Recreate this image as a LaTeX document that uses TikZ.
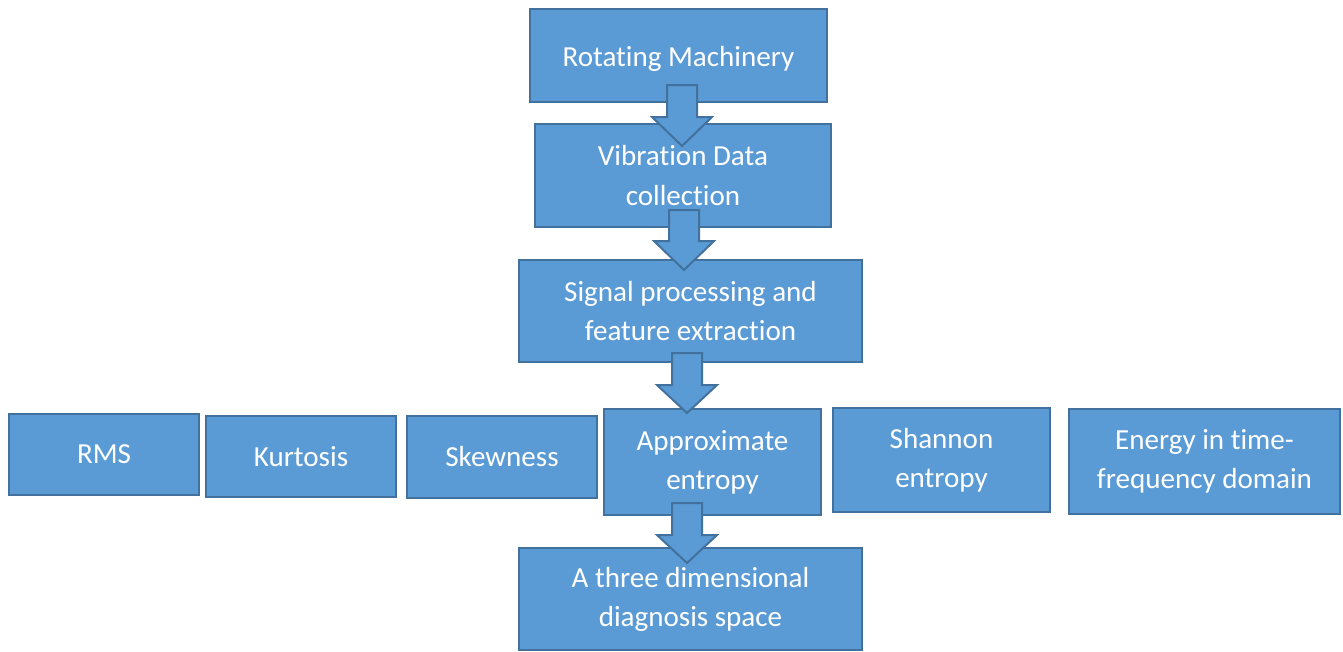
\documentclass[tikz,border=0pt]{standalone}
\usepackage{fontspec}
\setmainfont{Carlito}[RawFeature=-liga]
\definecolor{boxfill}{HTML}{5B9BD5}
\definecolor{boxline}{HTML}{41719C}
\newcommand\bx[6]{\node[box, minimum width={(#4-#2)*0.75pt}, minimum height={(#5-#3)*0.75pt}] (#1) at ({(#2+#4)/2},{(#3+#5)/2}) {#6};}
\newcommand\barr[4]{\draw[barrow] ({#1-15},#2) -- ({#1+15},#2) -- ({#1+15},#3) -- ({#1+30},#3) -- (#1,#4) -- ({#1-30},#3) -- ({#1-15},#3) -- cycle;}
\begin{document}
\begin{tikzpicture}[x=0.75pt,y=-0.75pt,
  box/.style={draw=boxline, fill=boxfill, line width=1.5pt, text=white, align=center, inner sep=0pt,
    font=\fontsize{21.8pt}{29.3pt}\selectfont},
  barrow/.style={draw=boxline, fill=boxfill, line width=1.5pt, line join=miter}]
\useasboundingbox (0,0) rectangle (1343,651);
\bx{rm}{530}{9}{827}{102}{\raisebox{-2.6pt}[\height][\depth]{Rotating Machinery}}
\bx{vdc}{535}{124}{831}{227}{Vibration Data\\collection}
\bx{sp}{519}{260}{862}{362}{Signal processing and\\feature extraction}
\bx{rms}{9}{414}{199}{495}{RMS}
\bx{kur}{206}{416}{396}{497}{Kurtosis}
\bx{skw}{407}{416}{597}{498}{Skewness}
\bx{ape}{604}{409}{821}{515}{Approximate\\entropy}
\bx{she}{833}{408}{1050}{512}{Shannon\\entropy}
\bx{ene}{1069}{409}{1340}{514}{Energy in time-\\frequency domain}
\bx{tds}{519}{548}{862}{650}{A three dimensional\\diagnosis space}
\barr{682}{85}{117}{146}
\barr{684}{210}{241}{270}
\barr{687}{353}{385}{413}
\barr{687}{503}{535}{563}
\end{tikzpicture}
\end{document}
